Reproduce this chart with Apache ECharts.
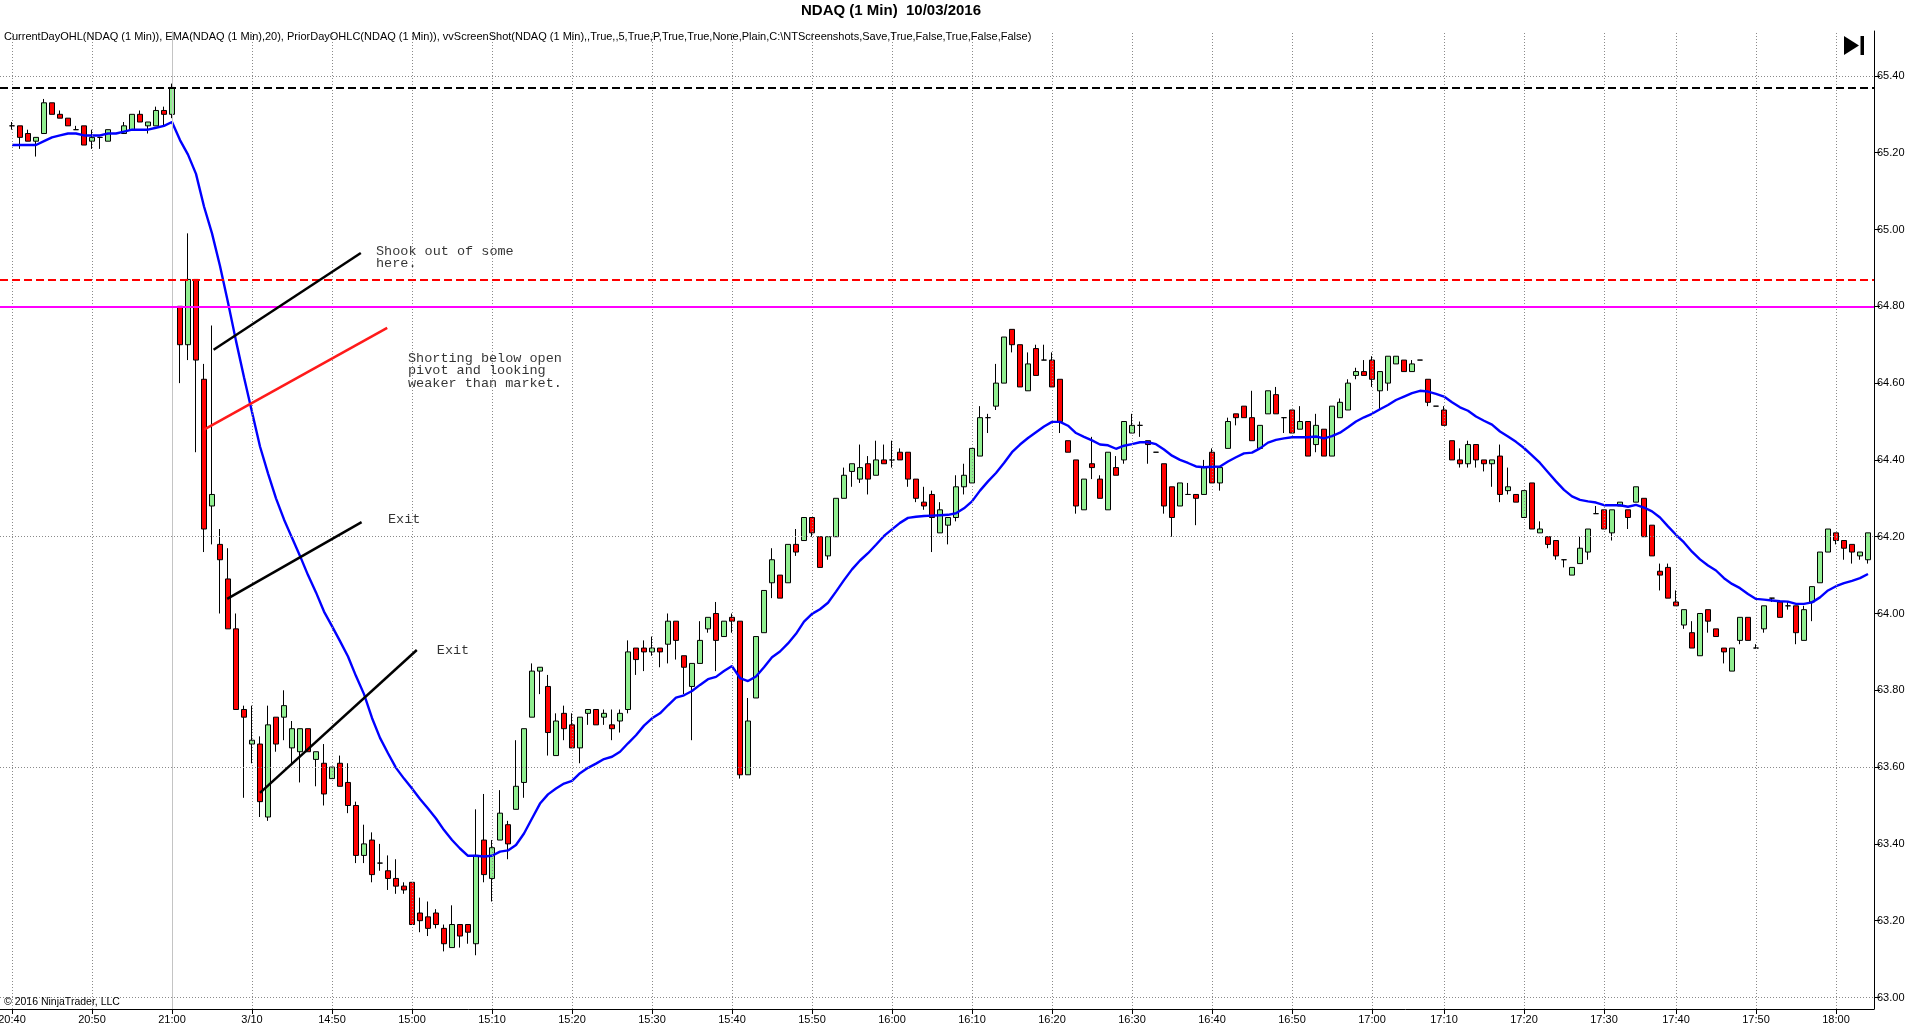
<!DOCTYPE html>
<html>
<head>
<meta charset="utf-8">
<script src="https://cdn.jsdelivr.net/npm/echarts@6/dist/echarts.min.js"></script>
<style>
html,body{margin:0;padding:0;background:#fff;}
#chart{width:1920px;height:1034px;}
</style>
</head>
<body>
<div id="chart"></div>
<script>
// ---- data (one entry per 1-minute bar) ----
const opens = [
65.27,65.27,65.25,65.23,65.25,65.33,65.30,65.29,65.26,65.27,65.23,65.24,65.23,65.25,65.25,65.26,65.30,65.27,65.27,65.31,65.30,
64.80,64.70,64.87,64.61,64.28,64.18,64.09,63.96,63.75,63.66,63.66,63.47,63.73,63.73,63.65,63.64,63.70,63.62,63.61,63.57,
63.61,63.56,63.50,63.37,63.41,63.35,63.33,63.31,63.29,63.30,63.22,63.21,63.22,63.18,63.13,63.19,63.19,63.14,63.41,63.31,
63.41,63.45,63.49,63.56,63.73,63.85,63.81,63.63,63.74,63.71,63.65,63.74,63.75,63.73,63.71,63.72,63.75,63.91,63.91,63.90,
63.91,63.92,63.98,63.89,63.81,63.87,63.96,64.00,63.94,63.99,63.98,63.58,63.78,63.95,64.08,64.10,64.08,64.18,64.19,64.25,
64.20,64.15,64.20,64.30,64.37,64.35,64.39,64.36,64.40,64.40,64.42,64.42,64.35,64.29,64.31,64.21,64.23,64.25,64.33,64.34,
64.41,64.51,64.54,64.60,64.74,64.70,64.58,64.69,64.66,64.66,64.61,64.45,64.40,64.27,64.39,64.35,64.27,64.38,64.40,64.47,
64.49,64.45,64.42,64.39,64.33,64.28,64.31,64.31,64.31,64.42,64.34,64.43,64.52,64.54,64.51,64.43,64.52,64.57,64.51,64.53,
64.48,64.50,64.44,64.48,64.41,64.51,64.53,64.62,64.63,64.66,64.58,64.60,64.65,64.66,64.63,64.66,64.61,64.54,64.53,64.45,
64.40,64.39,64.44,64.40,64.39,64.41,64.32,64.31,64.25,64.34,64.21,64.20,64.19,64.14,64.10,64.13,64.16,64.26,64.27,64.21,
64.28,64.27,64.29,64.30,64.23,64.11,64.12,64.03,63.97,63.95,63.89,64.01,63.96,63.91,63.85,63.93,63.99,63.91,63.96,64.04,
64.03,64.02,64.02,63.93,64.03,64.08,64.16,64.21,64.19,64.18,64.15,64.14
];
const closes = [
65.27,65.24,65.23,65.24,65.33,65.30,65.29,65.27,65.26,65.22,65.24,65.24,65.26,65.25,65.27,65.30,65.28,65.28,65.31,65.30,65.37,
64.70,64.87,64.66,64.22,64.31,64.14,63.96,63.75,63.73,63.67,63.51,63.71,63.66,63.76,63.70,63.70,63.64,63.64,63.53,63.60,
63.55,63.50,63.37,63.40,63.32,63.35,63.31,63.29,63.28,63.19,63.20,63.18,63.19,63.14,63.19,63.16,63.17,63.37,63.32,63.39,
63.48,63.40,63.55,63.70,63.85,63.86,63.69,63.72,63.70,63.65,63.73,63.75,63.71,63.74,63.70,63.74,63.90,63.88,63.90,63.91,
63.90,63.98,63.93,63.86,63.87,63.93,63.99,63.93,63.98,63.98,63.58,63.72,63.94,64.06,64.14,64.04,64.18,64.16,64.25,64.21,
64.12,64.20,64.30,64.36,64.39,64.38,64.35,64.40,64.39,64.40,64.40,64.35,64.30,64.28,64.25,64.27,64.25,64.33,64.36,64.43,
64.51,64.51,64.60,64.72,64.70,64.59,64.65,64.62,64.66,64.59,64.50,64.42,64.28,64.35,64.38,64.30,64.42,64.36,64.50,64.49,
64.49,64.44,64.42,64.28,64.25,64.34,64.31,64.30,64.38,64.34,64.38,64.50,64.51,64.51,64.45,64.49,64.58,64.52,64.51,64.47,
64.50,64.41,64.49,64.41,64.54,64.55,64.60,64.63,64.62,64.61,64.63,64.67,64.67,64.63,64.65,64.66,64.55,64.54,64.49,64.40,
64.39,64.44,64.40,64.39,64.40,64.31,64.33,64.29,64.32,64.22,64.22,64.18,64.15,64.14,64.12,64.17,64.22,64.26,64.22,64.27,
64.29,64.25,64.33,64.20,64.15,64.10,64.04,64.02,64.01,63.91,64.00,63.98,63.94,63.90,63.91,63.99,63.93,63.91,64.02,64.04,
63.99,64.02,63.95,64.01,64.07,64.16,64.22,64.19,64.17,64.16,64.16,64.21
];
const lows = [
65.26,65.21,65.23,65.19,65.25,65.30,65.29,65.27,65.26,65.22,65.21,65.21,65.23,65.25,65.25,65.26,65.28,65.25,65.27,65.27,65.29,
64.60,64.66,64.42,64.16,64.18,64.00,63.96,63.75,63.52,63.61,63.47,63.46,63.64,63.67,63.61,63.56,63.64,63.55,63.50,63.57,
63.55,63.48,63.35,63.35,63.30,63.33,63.28,63.27,63.27,63.19,63.17,63.16,63.18,63.12,63.13,63.13,63.14,63.11,63.30,63.25,
63.41,63.36,63.49,63.52,63.73,63.79,63.63,63.63,63.67,63.65,63.61,63.71,63.71,63.71,63.67,63.69,63.74,63.84,63.85,63.89,
63.86,63.87,63.88,63.79,63.67,63.87,63.95,63.85,63.94,63.95,63.57,63.58,63.78,63.95,64.04,64.04,64.08,64.15,64.19,64.20,
64.12,64.14,64.20,64.30,64.33,64.34,64.31,64.36,64.39,64.38,64.40,64.33,64.29,64.27,64.16,64.21,64.18,64.24,64.31,64.34,
64.41,64.47,64.53,64.60,64.68,64.59,64.58,64.62,64.66,64.59,64.47,64.42,64.26,64.27,64.35,64.30,64.27,64.36,64.39,64.47,
64.46,64.39,64.42,64.26,64.20,64.28,64.31,64.23,64.31,64.34,64.32,64.43,64.49,64.51,64.45,64.43,64.52,64.52,64.47,64.47,
64.48,64.41,64.42,64.41,64.41,64.51,64.53,64.61,64.62,64.59,64.53,64.58,64.65,64.63,64.63,64.66,64.54,64.54,64.49,64.40,
64.38,64.38,64.38,64.37,64.33,64.29,64.31,64.29,64.25,64.22,64.21,64.17,64.14,64.12,64.10,64.13,64.14,64.26,64.22,64.19,
64.28,64.22,64.29,64.20,64.15,64.06,64.04,64.02,63.96,63.91,63.89,63.95,63.94,63.87,63.85,63.92,63.93,63.91,63.95,64.03,
63.99,64.01,63.92,63.93,63.98,64.08,64.16,64.18,64.14,64.13,64.14,64.13
];
const highs = [
65.28,65.27,65.26,65.24,65.34,65.33,65.31,65.29,65.27,65.27,65.26,65.24,65.26,65.25,65.28,65.30,65.31,65.28,65.32,65.32,65.38,
64.80,64.99,64.87,64.65,64.75,64.22,64.17,64.00,63.76,63.76,63.68,63.76,63.73,63.80,63.72,63.70,63.70,63.64,63.66,63.60,
63.63,63.61,63.51,63.45,63.43,63.40,63.37,63.36,63.30,63.30,63.26,63.25,63.23,63.19,63.24,63.19,63.19,63.49,63.53,63.41,
63.54,63.46,63.67,63.70,63.87,63.86,63.84,63.74,63.76,63.74,63.73,63.75,63.75,63.75,63.75,63.75,63.93,63.91,63.93,63.94,
63.91,64.00,63.98,63.89,63.87,63.98,63.99,64.03,63.98,64.00,63.98,63.78,63.94,64.06,64.17,64.10,64.18,64.22,64.25,64.25,
64.20,64.20,64.30,64.38,64.39,64.44,64.41,64.45,64.44,64.45,64.43,64.42,64.35,64.33,64.32,64.29,64.25,64.36,64.39,64.43,
64.54,64.52,64.65,64.72,64.74,64.70,64.68,64.70,64.70,64.68,64.61,64.45,64.40,64.35,64.46,64.36,64.42,64.41,64.50,64.52,
64.50,64.45,64.42,64.39,64.33,64.34,64.34,64.31,64.40,64.43,64.38,64.51,64.52,64.54,64.58,64.49,64.58,64.59,64.51,64.53,
64.54,64.50,64.52,64.48,64.54,64.56,64.61,64.64,64.66,64.67,64.63,64.67,64.67,64.66,64.66,64.66,64.61,64.54,64.54,64.45,
64.43,64.45,64.44,64.40,64.40,64.44,64.38,64.31,64.32,64.34,64.24,64.20,64.19,64.14,64.12,64.20,64.22,64.28,64.27,64.27,
64.29,64.27,64.33,64.30,64.23,64.13,64.13,64.06,64.01,63.98,64.00,64.01,63.96,63.91,63.91,63.99,63.99,63.92,64.02,64.04,
64.03,64.03,64.02,64.02,64.07,64.16,64.22,64.21,64.19,64.18,64.16,64.21
];
const ema20 = [
65.22,65.22,65.22,65.22,65.23,65.24,65.245,65.25,65.25,65.245,65.245,65.245,65.25,65.25,65.255,65.26,65.26,65.26,65.265,65.27,65.28,
65.233,65.195,65.145,65.06,64.99,64.905,64.81,64.71,64.615,64.525,64.435,64.365,64.30,64.245,64.197,64.15,64.10,64.055,64.005,63.967,
63.928,63.888,63.837,63.79,63.728,63.676,63.636,63.598,63.57,63.544,63.517,63.492,63.466,63.436,63.41,63.388,63.369,63.369,63.367,63.369,
63.38,63.383,63.397,63.427,63.466,63.505,63.529,63.544,63.557,63.564,63.584,63.598,63.609,63.621,63.627,63.64,63.662,63.683,63.708,63.727,
63.74,63.761,63.781,63.787,63.798,63.814,63.829,63.835,63.85,63.863,63.832,63.824,63.836,63.86,63.886,63.901,63.922,63.947,63.979,63.999,
64.011,64.028,64.057,64.087,64.115,64.138,64.157,64.179,64.202,64.219,64.236,64.249,64.252,64.254,64.255,64.256,64.257,64.261,64.274,64.292,
64.32,64.344,64.366,64.392,64.42,64.44,64.457,64.472,64.487,64.499,64.499,64.489,64.47,64.46,64.451,64.44,64.438,64.429,64.437,64.441,
64.446,64.446,64.441,64.427,64.411,64.40,64.392,64.383,64.381,64.382,64.383,64.396,64.407,64.417,64.419,64.43,64.445,64.452,64.456,64.459,
64.459,64.459,64.461,64.456,64.462,64.471,64.485,64.50,64.511,64.52,64.532,64.543,64.556,64.565,64.574,64.58,64.578,64.572,64.565,64.55,
64.537,64.528,64.513,64.502,64.492,64.474,64.461,64.447,64.431,64.412,64.392,64.368,64.344,64.322,64.305,64.296,64.292,64.289,64.282,64.282,
64.282,64.278,64.283,64.276,64.266,64.25,64.227,64.205,64.185,64.161,64.141,64.125,64.112,64.092,64.077,64.066,64.051,64.038,64.036,64.034,
64.032,64.031,64.025,64.025,64.029,64.042,64.06,64.071,64.079,64.085,64.092,64.103
];

// time-axis labels and the bar each one sits on
const timeLabels = ['20:40','20:50','21:00','3/10','14:50','15:00','15:10','15:20','15:30','15:40','15:50','16:00',
  '16:10','16:20','16:30','16:40','16:50','17:00','17:10','17:20','17:30','17:40','17:50','18:00'];
const timeLabelBars = [0,10,20,30,40,50,60,70,80,90,100,110,120,130,140,150,160,170,179,189,199,208,218,228];
const sessionBreakBar = 20;

// price-axis ticks and horizontal grid
const priceTicks = [63.00,63.20,63.40,63.60,63.80,64.00,64.20,64.40,64.60,64.80,65.00,65.20,65.40];
const priceGrid = [63.00,63.60,64.20,64.80,65.40];

// indicator levels
const priorDayClose = 65.37;
const currentDayLevel = 64.87;
const pivotLevel = 64.80;
const lastPrice = 64.21;

// drawn annotations (bar index, price)
const noteLines = [
  [[25.2, 64.687], [43.6, 64.939]],
  [[24.0, 64.479], [46.9, 64.744]],
  [[26.9, 64.038], [43.7, 64.238]],
  [[31.0, 63.533], [50.6, 63.905]]
];
const noteTexts = [
  {at: [45.5, 64.960], text: 'Shook out of some\nhere.'},
  {at: [49.5, 64.681], text: 'Shorting below open\npivot and looking\nweaker than market.'},
  {at: [47.0, 64.262], text: 'Exit'},
  {at: [53.1, 63.921], text: 'Exit'}
];

// ---- chart ----
const noteLineColors = ['#000000', '#ff1a1a', '#000000', '#000000'];
const chart = echarts.init(document.getElementById('chart'), null, {renderer: 'canvas'});

const candleData = opens.map((o, j) => [j, o, closes[j], lows[j], highs[j]]);
const emaData = ema20.map((v, j) => [j, v]);

function labelFor(v) {
  const k = timeLabelBars.indexOf(Math.round(v));
  return k >= 0 ? timeLabels[k] : '';
}

const gridMarks = [];
timeLabelBars.forEach(j => {
  gridMarks.push({
    xAxis: j,
    lineStyle: j === sessionBreakBar
      ? {color: '#c4c4c4', type: 'solid', width: 1}
      : {color: '#8a8a8a', type: [1, 2], width: 1}
  });
});
priceGrid.forEach(p => {
  gridMarks.push({yAxis: p, lineStyle: {color: '#8a8a8a', type: [1, 2], width: 1}});
});

const series = [
  {
    name: 'grid', type: 'line', data: [], z: 1, silent: true,
    markLine: {silent: true, symbol: 'none', label: {show: false}, animation: false, data: gridMarks}
  },
  {
    name: 'levels', type: 'line', data: [], z: 2, silent: true,
    markLine: {
      silent: true, symbol: 'none', animation: false,
      label: {show: false},
      data: [
        {yAxis: priorDayClose, lineStyle: {color: '#000000', type: [8, 4], width: 2}},
        {yAxis: currentDayLevel, lineStyle: {color: '#ff0000', type: [8, 4], width: 2}},
        {yAxis: pivotLevel, lineStyle: {color: '#ff00ff', type: 'solid', width: 2}}
      ]
    }
  },
  {
    name: 'NDAQ', type: 'candlestick', data: candleData, z: 3,
    encode: {x: 0, y: [1, 2, 3, 4]},
    barWidth: 5,
    itemStyle: {color: '#90ee90', color0: '#ff0000', borderColor: '#000000', borderColor0: '#000000', borderWidth: 1},
    markLine: {
      silent: true, symbol: 'none', animation: false,
      data: [{
        yAxis: lastPrice,
        lineStyle: {opacity: 0},
        label: {
          show: true, position: 'end', distance: 1,
          formatter: lastPrice.toFixed(2),
          color: '#000', fontSize: 11, fontFamily: 'Liberation Sans',
          backgroundColor: '#a9a9a9', borderColor: '#000', borderWidth: 1,
          padding: [1, 3, 0, 3]
        }
      }]
    }
  },
  {
    name: 'EMA', type: 'line', data: emaData, z: 4,
    showSymbol: false, symbol: 'none',
    lineStyle: {color: '#0000ff', width: 2.4}
  }
];

noteLines.forEach((ln, k) => {
  series.push({
    type: 'line', data: ln, z: 5, showSymbol: false, symbol: 'none', silent: true,
    lineStyle: {color: noteLineColors[k], width: 2.5}
  });
});
noteTexts.forEach(t => {
  series.push({
    type: 'scatter', data: [t.at], z: 6, symbolSize: 0, silent: true,
    label: {
      show: true, position: [0, 0], align: 'left', verticalAlign: 'top',
      formatter: t.text, color: '#000', fontSize: 13.5, lineHeight: 12.5,
      fontFamily: '"Liberation Mono", "DejaVu Sans Mono", monospace'
    }
  });
});

chart.setOption({
  animation: false,
  backgroundColor: '#ffffff',
  grid: {left: 0, top: 31, width: 1874, height: 978, containLabel: false, outerBoundsMode: 'none', show: false},
  xAxis: {
    type: 'value', min: -1.5, max: 232.75,
    axisLine: {show: true, onZero: false, lineStyle: {color: '#000', width: 1}},
    axisTick: {show: true, length: 5, customValues: timeLabelBars, lineStyle: {color: '#000'}},
    axisLabel: {
      show: true, customValues: timeLabelBars, formatter: labelFor,
      color: '#000', fontSize: 11, fontFamily: 'Liberation Sans', margin: 5, hideOverlap: false
    },
    splitLine: {show: false}
  },
  yAxis: {
    type: 'value', position: 'right', min: 62.970, max: 65.517,
    axisLine: {show: true, onZero: false, lineStyle: {color: '#000', width: 1}},
    axisTick: {show: true, length: 6, customValues: priceTicks, lineStyle: {color: '#000'}},
    axisLabel: {
      show: true, customValues: priceTicks, formatter: v => v.toFixed(2),
      color: '#000', fontSize: 11, fontFamily: 'Liberation Sans', margin: 3
    },
    splitLine: {show: false}
  },
  graphic: [
    {type: 'text', x: 891, y: 3, z: 10,
      style: {text: 'NDAQ (1 Min)  10/03/2016', font: 'bold 15px "Liberation Sans", Arial, sans-serif', fill: '#000', textAlign: 'center'}},
    {type: 'text', x: 4, y: 31, z: 10,
      style: {text: 'CurrentDayOHL(NDAQ (1 Min)), EMA(NDAQ (1 Min),20), PriorDayOHLC(NDAQ (1 Min)), vvScreenShot(NDAQ (1 Min),,True,,5,True,P,True,True,None,Plain,C:\\NTScreenshots,Save,True,False,True,False,False)',
        font: '11px "Liberation Sans", Arial, sans-serif', fill: '#000'}},
    {type: 'text', x: 4, y: 997, z: 10,
      style: {text: '\u00a9 2016 NinjaTrader, LLC', font: '10.5px "Liberation Sans", Arial, sans-serif', fill: '#000'}},
    {type: 'polygon', z: 10, shape: {points: [[1844, 36], [1859, 45.5], [1844, 55]]}, style: {fill: '#000'}},
    {type: 'rect', z: 10, shape: {x: 1860.5, y: 36, width: 3.5, height: 19}, style: {fill: '#000'}}
  ],
  series: series
});
</script>
</body>
</html>
